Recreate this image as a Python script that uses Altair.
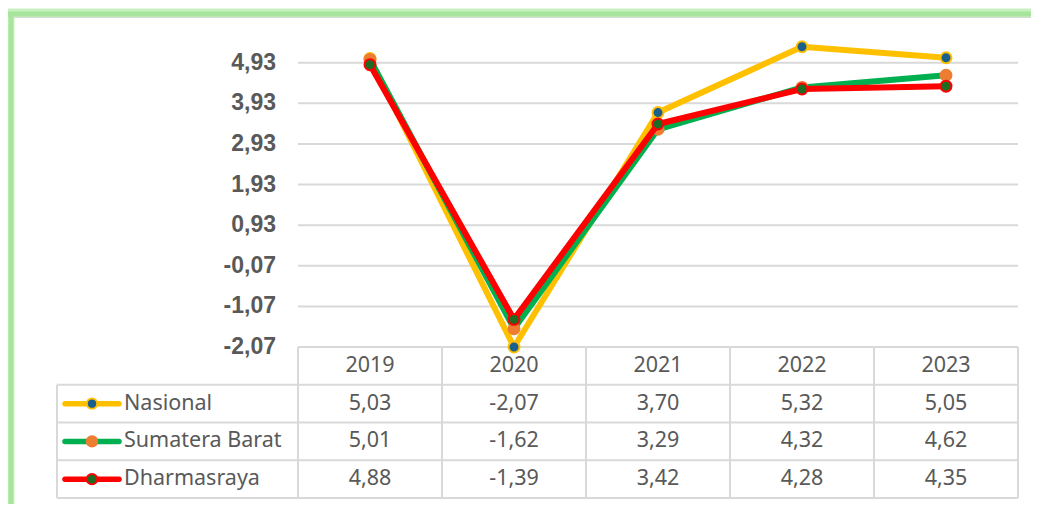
import altair as alt
import pandas as pd

# ---------------- data ----------------
years = ["2019", "2020", "2021", "2022", "2023"]
series_names = ["Nasional", "Sumatera Barat", "Dharmasraya"]
nasional = [5.03, -2.07, 3.70, 5.32, 5.05]
sumatera_barat = [5.01, -1.62, 3.29, 4.32, 4.62]
dharmasraya = [4.88, -1.39, 3.42, 4.28, 4.35]
y_ticks = [-2.07, -1.07, -0.07, 0.93, 1.93, 2.93, 3.93, 4.93]

# ---------------- styles ----------------
line_colors = ["#FFC000", "#00B050", "#FF0000"]
marker_fill = ["#1B5F8C", "#ED7D31", "#1E6B24"]
marker_stroke = ["#FFC000", "#ED7D31", "#FF0000"]
GRID = "#d9d9d9"
TXT = "#595959"


def fmt(v):
    return f"{v:.2f}".replace(".", ",")


values = [nasional, sumatera_barat, dharmasraya]
long_df = pd.DataFrame(
    [{"series": s, "year": y, "value": v}
     for s, vals in zip(series_names, values) for y, v in zip(years, vals)]
)
tick_df = pd.DataFrame({"tick": y_ticks, "label": [fmt(t) for t in y_ticks]})
table_df = pd.DataFrame(
    [{"row": "header", "year": y, "label": y} for y in years]
    + [{"row": s, "year": y, "label": fmt(v)}
       for s, vals in zip(series_names, values) for y, v in zip(years, vals)]
)
legend_df = pd.DataFrame({"row": series_names, "series": series_names})

# ---------------- layout ----------------
W, H = 961, 476
PX0, PX1 = 241, 961          # plot / year columns
VAL_BOTTOM, VAL_TOP = 325, 0  # pixel for -2.07 and 5.93
TY0, TY1 = 325, 476           # table top / bottom
row_step = (TY1 - TY0) / 4
col_step = (PX1 - PX0) / 5

xscale = alt.Scale(type="point", domain=years, range=[PX0, PX1], padding=0.5)
yscale = alt.Scale(domain=[-2.07, 5.93], range=[VAL_BOTTOM, VAL_TOP], zero=False, nice=False)
rowscale = alt.Scale(type="point", domain=["header"] + series_names, range=[TY0, TY1], padding=0.5)

# borders / frame (decoration, pixel coordinates)
border_rows = []
border_rows.append({"x": PX0, "x2": PX1, "y": TY0, "y2": TY0})
for k in range(1, 5):
    yy = TY0 + k * row_step
    border_rows.append({"x": 0, "x2": PX1, "y": yy, "y2": yy})
border_rows.append({"x": 0, "x2": 0, "y": TY0 + row_step, "y2": TY1})
for k in range(6):
    xx = PX0 + k * col_step
    border_rows.append({"x": xx, "x2": xx, "y": TY0, "y2": TY1})
borders_df = pd.DataFrame(border_rows)

frame_df = pd.DataFrame([
    {"x": -47, "x2": -47, "y": -9, "y2": 490, "c": "#c9f0c0", "w": 9},
    {"x": -49, "x2": 990, "y": -9, "y2": -9, "c": "#c9f0c0", "w": 9},
    {"x": -46, "x2": -46, "y": -9, "y2": 490, "c": "#a8e59c", "w": 5},
    {"x": -49, "x2": 990, "y": -8, "y2": -8, "c": "#a8e59c", "w": 5},
    {"x": -43.5, "x2": -43.5, "y": -4.5, "y2": 490, "c": "#d9d9d9", "w": 1},
    {"x": -43.5, "x2": 990, "y": -4.5, "y2": -4.5, "c": "#d9d9d9", "w": 1},
])

frame = alt.Chart(frame_df).mark_rule().encode(
    x=alt.X("x:Q", scale=None), x2="x2:Q",
    y=alt.Y("y:Q", scale=None), y2="y2:Q",
    color=alt.Color("c:N", scale=None),
    strokeWidth=alt.StrokeWidth("w:Q", scale=None),
)

grid = alt.Chart(tick_df).mark_rule(color=GRID, strokeWidth=2).encode(
    y=alt.Y("tick:Q", scale=yscale, axis=None),
    x=alt.value(PX0), x2=alt.value(PX1),
)
tick_labels = alt.Chart(tick_df).mark_text(
    align="right", baseline="middle", font="Liberation Sans",
    fontSize=23, fontWeight="bold", color=TXT,
).encode(y=alt.Y("tick:Q", scale=yscale, axis=None), x=alt.value(219), text="label:N")

borders = alt.Chart(borders_df).mark_rule(color=GRID, strokeWidth=2).encode(
    x=alt.X("x:Q", scale=None), x2="x2:Q",
    y=alt.Y("y:Q", scale=None), y2="y2:Q",
)

table_text = alt.Chart(table_df).mark_text(
    align="center", baseline="middle", font="Noto Sans", fontSize=21.5, color=TXT,
).encode(
    x=alt.X("year:O", scale=xscale, axis=None),
    y=alt.Y("row:N", scale=rowscale, axis=None),
    text="label:N",
)

legend_text = alt.Chart(legend_df).mark_text(
    align="left", baseline="middle", font="Noto Sans", fontSize=21.5, color=TXT,
).encode(
    x=alt.value(67),
    y=alt.Y("row:N", scale=rowscale, axis=None),
    text="series:N",
)

layers = [frame, grid, tick_labels, borders, table_text, legend_text]

for i, name in enumerate(series_names):
    lg = alt.Chart(legend_df).transform_filter(alt.datum.series == name)
    layers.append(lg.mark_rule(color=line_colors[i], strokeWidth=5.5, strokeCap="round").encode(
        x=alt.value(8), x2=alt.value(62),
        y=alt.Y("row:N", scale=rowscale, axis=None),
    ))
    layers.append(lg.mark_circle(size=110, opacity=1, color=marker_fill[i],
                                 stroke=marker_stroke[i], strokeWidth=2).encode(
        x=alt.value(35),
        y=alt.Y("row:N", scale=rowscale, axis=None),
    ))

for i, name in enumerate(series_names):
    base = alt.Chart(long_df).transform_filter(alt.datum.series == name)
    enc = dict(
        x=alt.X("year:O", scale=xscale, axis=None),
        y=alt.Y("value:Q", scale=yscale, axis=None),
    )
    layers.append(base.mark_line(color=line_colors[i], strokeWidth=6,
                                 strokeCap="round", strokeJoin="round").encode(**enc))
    layers.append(base.mark_circle(size=120, opacity=1, color=marker_fill[i],
                                   stroke=marker_stroke[i], strokeWidth=2).encode(**enc))

chart = alt.layer(*layers).resolve_scale(y="independent").properties(
    width=W, height=H,
    autosize=alt.AutoSizeParams(type="none"),
    padding={"left": 49, "top": 14, "right": 13, "bottom": 6},
    background="white",
).configure_view(strokeWidth=0)

chart.save("out.html", embed_options={"renderer": "svg", "actions": False})
